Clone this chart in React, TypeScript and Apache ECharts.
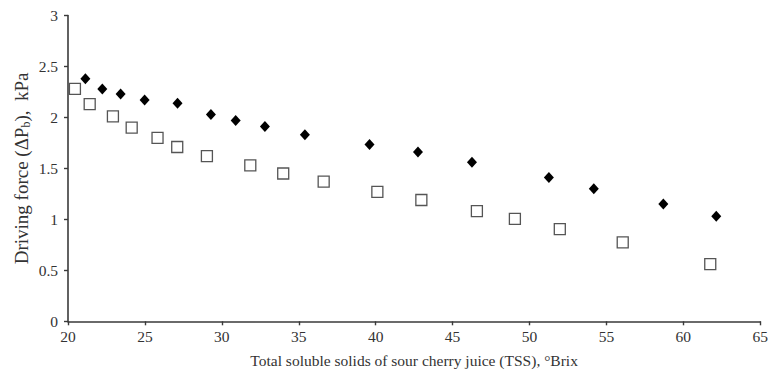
import React, { useEffect, useRef } from "react";
import * as echarts from "echarts";

const diamondX = [21.13, 22.23, 23.42, 24.98, 27.12, 29.29, 30.9, 32.8, 35.4, 39.6, 42.75, 46.26, 51.26, 54.18, 58.7, 62.14];
const diamondY = [2.38, 2.28, 2.23, 2.17, 2.14, 2.03, 1.97, 1.91, 1.83, 1.735, 1.66, 1.56, 1.41, 1.3, 1.15, 1.03];
const squareX = [20.45, 21.41, 22.92, 24.14, 25.82, 27.1, 29.03, 31.85, 33.99, 36.62, 40.11, 42.97, 46.58, 49.05, 51.97, 56.06, 61.75];
const squareY = [2.28, 2.13, 2.01, 1.9, 1.8, 1.71, 1.62, 1.53, 1.45, 1.37, 1.27, 1.19, 1.08, 1.005, 0.905, 0.775, 0.56];

const FONT = "'Liberation Serif', 'Times New Roman', serif";

export default function App() {
  const ref = useRef<HTMLDivElement>(null);
  useEffect(() => {
    if (!ref.current) return;
    const chart = echarts.init(ref.current, undefined, { renderer: "svg" });
    const axisColor = "#3a3a3a";
    chart.setOption({
      animation: false,
      backgroundColor: "#ffffff",
      grid: { left: 68, right: 10, top: 15.5, bottom: 55.7 },
      xAxis: {
        type: "value",
        min: 20,
        max: 65,
        interval: 5,
        name: "Total soluble solids of sour cherry juice (TSS), °Brix",
        nameLocation: "middle",
        nameGap: 31,
        nameMoveOverlap: false,
        nameTextStyle: { fontFamily: FONT, fontSize: 15.5, color: "#333" },
        axisLine: { show: true, lineStyle: { color: axisColor, width: 1.6 } },
        axisTick: { show: true, length: 4, lineStyle: { color: axisColor, width: 1.4 } },
        axisLabel: { fontFamily: FONT, fontSize: 15.5, color: "#333", margin: 7 },
        splitLine: { show: false },
      },
      yAxis: {
        type: "value",
        min: 0,
        max: 3,
        interval: 0.5,
        name: "Driving force (ΔP{sub|b}),  kPa",
        nameLocation: "middle",
        nameGap: 36,
        nameMoveOverlap: false,
        nameTextStyle: {
          fontFamily: FONT,
          fontSize: 19,
          color: "#333",
          rich: { sub: { fontFamily: FONT, fontSize: 12, color: "#333", padding: [10, 0, 0, 0] } },
        },
        axisLine: { show: true, lineStyle: { color: axisColor, width: 1.6 } },
        axisTick: { show: true, length: 4, lineStyle: { color: axisColor, width: 1.4 } },
        axisLabel: { fontFamily: FONT, fontSize: 15.5, color: "#333", margin: 10 },
        splitLine: { show: false },
      },
      series: [
        {
          type: "scatter",
          symbol: "diamond",
          symbolSize: [10, 11],
          itemStyle: { color: "#000", opacity: 1 },
          data: diamondX.map((x, i) => [x, diamondY[i]]),
        },
        {
          type: "scatter",
          symbol: "rect",
          symbolSize: 11,
          itemStyle: { color: "#fff", borderColor: "#555", borderWidth: 1.3, opacity: 1 },
          data: squareX.map((x, i) => [x, squareY[i]]),
        },
      ],
    });
    return () => chart.dispose();
  }, []);
  return <div ref={ref} style={{ position: "absolute", left: 0, top: 0, width: 771, height: 377 }} />;
}
